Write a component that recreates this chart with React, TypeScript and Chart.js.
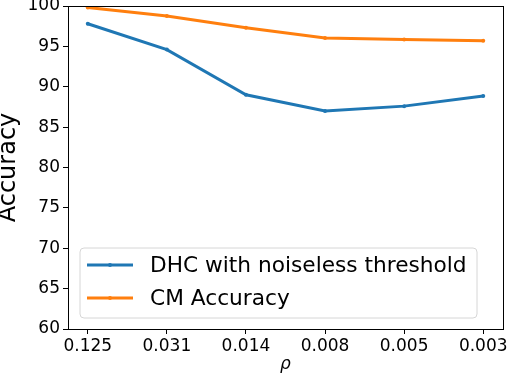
import React, { useEffect, useRef } from "react";
import { Chart, registerables } from "chart.js";

Chart.register(...registerables);

const categories = ["0.125", "0.031", "0.014", "0.008", "0.005", "0.003"];
const dhcValues = [97.8, 94.6, 89.0, 87.0, 87.6, 88.85];
const cmValues = [99.8, 98.75, 97.3, 96.05, 95.85, 95.7];
const seriesNames = ["DHC with noiseless threshold", "CM Accuracy"];
const seriesColors = ["#1f77b4", "#ff7f0e"];

const FONT = "'DejaVu Sans', sans-serif";

const frameAndLegend = {
  id: "frameAndLegend",
  afterDraw(chart: any) {
    const { ctx, chartArea } = chart;
    const { left, right, top, bottom } = chartArea;
    ctx.save();
    ctx.strokeStyle = "#000";
    ctx.lineWidth = 1;
    ctx.strokeRect(Math.round(left) + 0.5, Math.round(top) + 0.5, Math.round(right - left), Math.round(bottom - top));

    // legend
    const lx = left + 12;
    const lw = 397;
    const lh = 70;
    const ly = bottom - 11 - lh;
    const r = 4;
    ctx.beginPath();
    ctx.moveTo(lx + r, ly);
    ctx.lineTo(lx + lw - r, ly);
    ctx.arcTo(lx + lw, ly, lx + lw, ly + r, r);
    ctx.lineTo(lx + lw, ly + lh - r);
    ctx.arcTo(lx + lw, ly + lh, lx + lw - r, ly + lh, r);
    ctx.lineTo(lx + r, ly + lh);
    ctx.arcTo(lx, ly + lh, lx, ly + lh - r, r);
    ctx.lineTo(lx, ly + r);
    ctx.arcTo(lx, ly, lx + r, ly, r);
    ctx.closePath();
    ctx.fillStyle = "rgba(255,255,255,0.8)";
    ctx.fill();
    ctx.strokeStyle = "#d6d6d6";
    ctx.lineWidth = 1;
    ctx.stroke();

    seriesNames.forEach((name, i) => {
      const y = ly + 17 + i * 33;
      ctx.strokeStyle = seriesColors[i];
      ctx.lineWidth = 3;
      ctx.beginPath();
      ctx.moveTo(lx + 7, y);
      ctx.lineTo(lx + 53, y);
      ctx.stroke();
      ctx.fillStyle = seriesColors[i];
      ctx.beginPath();
      ctx.arc(lx + 30, y, 2, 0, Math.PI * 2);
      ctx.fill();
      ctx.fillStyle = "#000";
      ctx.font = `21.7px ${FONT}`;
      ctx.textBaseline = "middle";
      ctx.textAlign = "left";
      ctx.fillText(name, lx + 70, y + 1);
    });
    ctx.restore();
  },
};

export default function App() {
  const ref = useRef<HTMLCanvasElement>(null);
  useEffect(() => {
    if (!ref.current) return;
    const chart = new Chart(ref.current, {
      type: "line",
      data: {
        datasets: [
          {
            label: seriesNames[0],
            data: dhcValues.map((v, i) => ({ x: i, y: v })),
            borderColor: seriesColors[0],
            backgroundColor: seriesColors[0],
            borderWidth: 3,
            pointRadius: 2,
            pointBorderWidth: 0,
            tension: 0,
          },
          {
            label: seriesNames[1],
            data: cmValues.map((v, i) => ({ x: i, y: v })),
            borderColor: seriesColors[1],
            backgroundColor: seriesColors[1],
            borderWidth: 3,
            pointRadius: 2,
            pointBorderWidth: 0,
            tension: 0,
          },
        ],
      },
      options: {
        animation: false,
        responsive: false,
        maintainAspectRatio: false,
        layout: { padding: { top: 6, right: 5, left: 0, bottom: 0 } },
        plugins: { legend: { display: false }, tooltip: { enabled: false }, title: { display: false } },
        scales: {
          x: {
            type: "linear",
            min: -0.25,
            max: 5.25,
            afterBuildTicks: (scale: any) => {
              scale.ticks = categories.map((_, i) => ({ value: i }));
            },
            afterFit: (scale: any) => {
              scale.height = 47;
              scale.paddingLeft = 0;
              scale.paddingRight = 0;
            },
            ticks: {
              callback: (v: any) => categories[v] ?? "",
              font: { family: FONT, size: 17 },
              color: "#000",
              padding: 2,
              maxRotation: 0,
              autoSkip: false,
            },
            grid: { display: true, drawOnChartArea: false, drawTicks: true, tickLength: 5, color: "#000" },
            border: { display: true, color: "#000" },
            title: {
              display: true,
              text: "ρ",
              font: { family: FONT, size: 17, style: "italic" },
              color: "#000",
              padding: { top: 0, bottom: 1 },
            },
          },
          y: {
            min: 60,
            max: 100,
            afterFit: (scale: any) => {
              scale.width = 68;
              scale.paddingTop = 0;
              scale.paddingBottom = 0;
            },
            ticks: {
              stepSize: 5,
              font: { family: FONT, size: 17 },
              color: "#000",
              padding: 3,
            },
            grid: { display: true, drawOnChartArea: false, drawTicks: true, tickLength: 5, color: "#000" },
            border: { display: true, color: "#000" },
            title: {
              display: true,
              text: "Accuracy",
              font: { family: FONT, size: 24, lineHeight: 0.75 },
              color: "#000",
              padding: 0,
            },
          },
        },
      },
      plugins: [frameAndLegend],
    });
    return () => chart.destroy();
  }, []);
  return (
    <div style={{ position: "fixed", left: 0, top: 0, width: 508, height: 376, background: "#fff" }}>
      <canvas ref={ref} width={508} height={376} style={{ width: 508, height: 376 }} />
    </div>
  );
}
